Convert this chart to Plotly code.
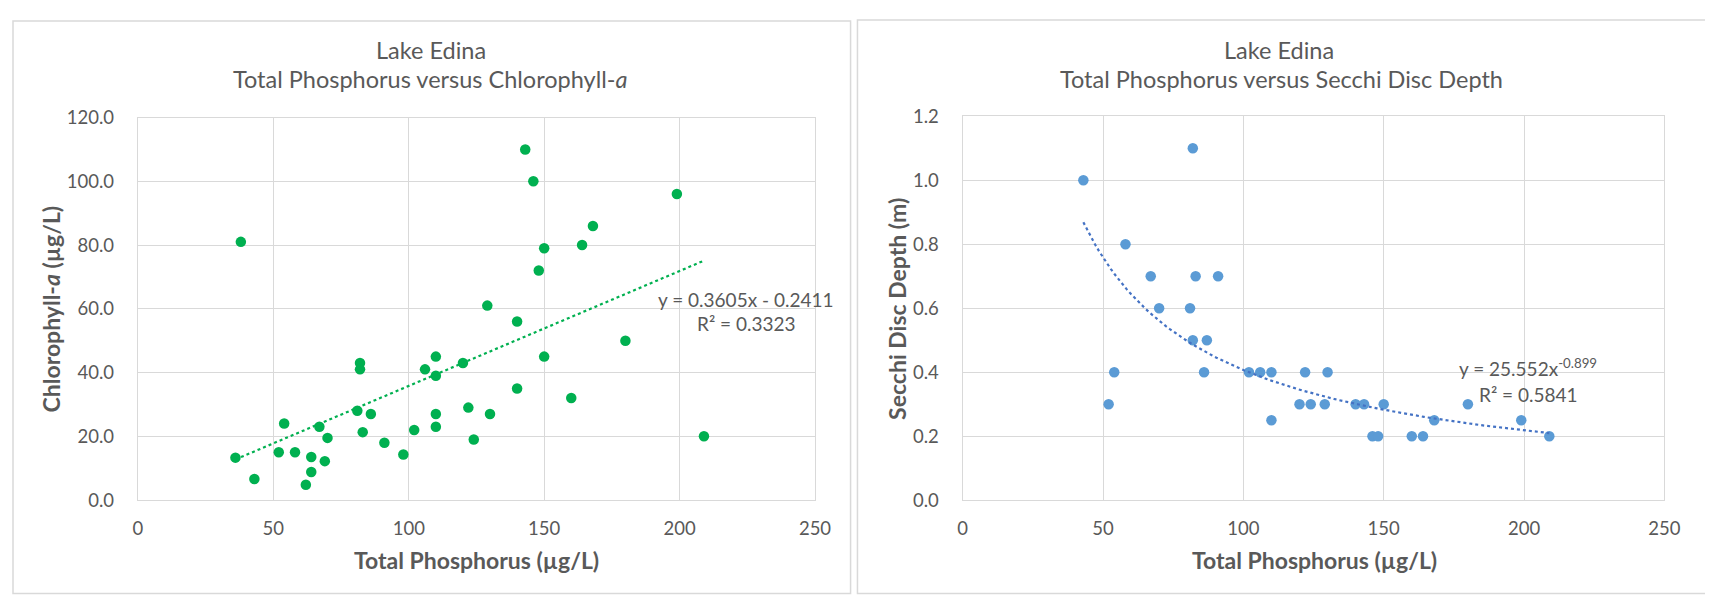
import numpy as np
import plotly.graph_objects as go

# ---------------- data ----------------
# Left: Total Phosphorus (ug/L) vs Chlorophyll-a (ug/L)
tp_chl = [36, 38, 43, 52, 54, 58, 62, 64, 64, 67, 69, 70, 81, 82, 82, 83, 86, 91, 98,
          102, 106, 110, 110, 110, 110, 120, 122, 124, 129, 130, 140, 140, 143, 146,
          148, 150, 150, 160, 164, 168, 180, 199, 209]
chl = [13.3, 81.0, 6.6, 15.0, 24.0, 15.0, 4.8, 13.5, 8.8, 23.0, 12.2, 19.5, 28.0, 43.0,
       41.0, 21.3, 27.0, 18.0, 14.3, 22.0, 41.0, 45.0, 39.0, 27.0, 23.0, 43.0, 29.0,
       19.0, 61.0, 27.0, 56.0, 35.0, 110.0, 100.0, 72.0, 79.0, 45.0, 32.0, 80.0, 86.0,
       50.0, 96.0, 20.0]

# Right: Total Phosphorus (ug/L) vs Secchi disc depth (m)
tp_sd = [43, 82, 58, 67, 83, 91, 70, 81, 82, 87, 54, 86, 102, 106, 110, 122, 130, 52,
         120, 124, 129, 110, 140, 143, 150, 180, 168, 199, 146, 148, 160, 164, 209]
sd = [1.0, 1.1, 0.8, 0.7, 0.7, 0.7, 0.6, 0.6, 0.5, 0.5, 0.4, 0.4, 0.4, 0.4, 0.4, 0.4,
      0.4, 0.3, 0.3, 0.3, 0.3, 0.25, 0.3, 0.3, 0.3, 0.3, 0.25, 0.25, 0.2, 0.2, 0.2,
      0.2, 0.2]

# Trendline coefficients (as printed on the chart)
lin_slope, lin_intercept, lin_r2 = 0.3605, -0.2411, 0.3323
pow_coef, pow_exp, pow_r2 = 25.552, -0.899, 0.5841

x_ticks = [0, 50, 100, 150, 200, 250]
chl_ticks = [0, 20, 40, 60, 80, 100, 120]
sd_ticks = [0.0, 0.2, 0.4, 0.6, 0.8, 1.0, 1.2]

# ---------------- layout helpers ----------------
OFF = 8                          # default page body margin
W, H = 1713 - OFF, 605 - OFF     # figure fills the window after the margin
def px(x):
    return (x - OFF) / W
def py(y):
    return (H - (y - OFF)) / H

GREEN = "#00B050"
BLUE = "#5B9BD5"
BLUE_TREND = "#4472C4"
GRID = "#D9D9D9"
TXT = "#595959"
FONT = "Lato, 'Open Sans', sans-serif"

fig = go.Figure()

fig.add_trace(go.Scatter(x=tp_chl, y=chl, mode="markers", xaxis="x", yaxis="y",
                         marker=dict(color=GREEN, size=10.5), showlegend=False))
xl = np.linspace(min(tp_chl), max(tp_chl), 50)
fig.add_trace(go.Scatter(x=xl, y=lin_slope * xl + lin_intercept, mode="lines",
                         xaxis="x", yaxis="y",
                         line=dict(color=GREEN, width=2.2, dash="dot"), showlegend=False))

fig.add_trace(go.Scatter(x=tp_sd, y=sd, mode="markers", xaxis="x2", yaxis="y2",
                         marker=dict(color=BLUE, size=10.5), showlegend=False))
xp = np.linspace(min(tp_sd), max(tp_sd), 120)
fig.add_trace(go.Scatter(x=xp, y=pow_coef * xp ** pow_exp, mode="lines",
                         xaxis="x2", yaxis="y2",
                         line=dict(color=BLUE_TREND, width=2.2, dash="dot"), showlegend=False))

axis_common = dict(showgrid=True, gridcolor=GRID, gridwidth=1.3, zeroline=False,
                   showline=True, linecolor=GRID, linewidth=1.3, mirror=True,
                   ticks="", tickfont=dict(family=FONT, size=18.5, color=TXT),
                   fixedrange=True)

fig.update_layout(
    width=W, height=H, margin=dict(l=0, r=0, t=0, b=0),
    paper_bgcolor="white", plot_bgcolor="white",
    xaxis=dict(domain=[px(134.5), px(820)], range=[0, 250], tickvals=x_ticks,
               anchor="y", ticklabelstandoff=12, **axis_common),
    yaxis=dict(domain=[py(506.4), py(109.3)], range=[0, 120], tickvals=chl_ticks,
               tickformat=".1f", anchor="x", ticklabelstandoff=19, **axis_common),
    xaxis2=dict(domain=[px(969.5), px(1680)], range=[0, 250], tickvals=x_ticks,
                anchor="y2", ticklabelstandoff=12, **axis_common),
    yaxis2=dict(domain=[py(506.5), py(108)], range=[0, 1.2], tickvals=sd_ticks,
                tickformat=".1f", anchor="x2", ticklabelstandoff=19, **axis_common),
)

shapes = [
    dict(type="rect", xref="paper", yref="paper", x0=px(8), x1=px(856), y0=py(603.5), y1=py(9),
         line=dict(color=GRID, width=1.5), fillcolor="rgba(0,0,0,0)", layer="below"),
    dict(type="rect", xref="paper", yref="paper", x0=px(863), x1=px(1740), y0=py(603.5), y1=py(8),
         line=dict(color=GRID, width=1.5), fillcolor="rgba(0,0,0,0)", layer="below"),
]
fig.update_layout(shapes=shapes)

def ann(text, x, y, size, bold=False, angle=0, color=TXT):
    if bold:
        text = "<b>" + text + "</b>"
    return dict(text=text, x=px(x), y=py(y), xref="paper", yref="paper",
                showarrow=False, xanchor="center", yanchor="middle", textangle=angle,
                font=dict(family=FONT, size=size, color=color))

annotations = [
    ann("Lake Edina", 431, 39, 23.5),
    ann("Total Phosphorus versus Chlorophyll-<i>a</i>", 431, 69, 23.5),
    ann("Lake Edina", 1290, 39, 23.5),
    ann("Total Phosphorus versus Secchi Disc Depth", 1292, 69, 23.5),
    ann("Total Phosphorus (µg/L)", 477, 569, 23, bold=True),
    ann("Total Phosphorus (µg/L)", 1326, 569, 23, bold=True),
    ann("Chlorophyll-<i>a</i> (µg/L)", 46, 308, 23, bold=True, angle=-90),
    ann("Secchi Disc Depth (m)", 903, 308, 23, bold=True, angle=-90),
    ann("y = 0.3605x - 0.2411", 750, 298, 19),
    ann("R² = 0.3323", 751, 323, 19),
    ann("y = 25.552x<sup>-0.899</sup>", 1542, 369, 19),
    ann("R² = 0.5841", 1542, 397, 19),
]
fig.update_layout(annotations=annotations)

fig.write_html("out.html")
